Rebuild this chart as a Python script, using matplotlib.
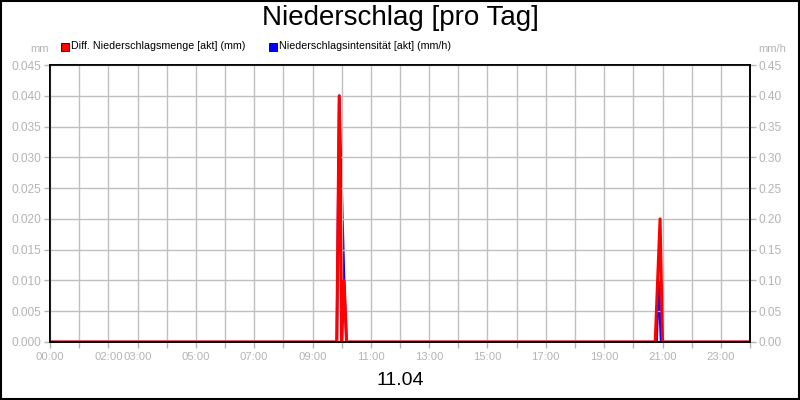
import matplotlib.pyplot as plt
from matplotlib.patches import Rectangle

plt.rcParams['font.family'] = ['Liberation Sans', 'DejaVu Sans']

# Diff. Niederschlagsmenge [akt] (mm)
menge_t = ["00:00", "09:50", "09:55", "10:00", "10:05", "10:10",
           "20:45", "20:55", "21:00", "24:00"]
menge_v = [0, 0, 0.040, 0, 0.010, 0, 0, 0.020, 0, 0]

# Niederschlagsintensitaet [akt] (mm/h)
intens_t = ["00:00", "09:50", "09:55", "10:05", "10:10",
            "20:48", "20:52", "20:57", "24:00"]
intens_v = [0, 0, 0.40, 0.10, 0, 0, 0.10, 0, 0]

tick_labels = ["00:00", "02:00", "03:00", "05:00", "07:00", "09:00", "11:00",
               "13:00", "15:00", "17:00", "19:00", "21:00", "23:00"]


def hours(ts):
    return [int(s[:2]) + int(s[3:]) / 60 for s in ts]


grey = '#b4b4b4'
fig = plt.figure(figsize=(8, 4), dpi=100)
ax = fig.add_axes([0.0625, 0.145, 0.875, 0.6925])
ax2 = ax.twinx()

ax2.plot(hours(intens_t), intens_v, color='#0000ff', lw=1.8)
ax.plot(hours(menge_t), menge_v, color='#ff0000', lw=2.2)
ax.set_zorder(ax2.get_zorder() + 1)
ax.patch.set_visible(False)

ax.set_xlim(0, 24)
ax.set_ylim(0, 0.045)
ax2.set_ylim(0, 0.45)
ax.set_yticks([i * 0.005 for i in range(10)])
ax.set_yticklabels([f"{i * 0.005:.3f}" for i in range(10)])
ax2.set_yticks([i * 0.05 for i in range(10)])
ax2.set_yticklabels([f"{i * 0.05:.2f}" for i in range(10)])
ax.set_xticks(range(25))
ax.set_xticklabels([f"{h:02d}:00" if f"{h:02d}:00" in tick_labels else "" for h in range(25)])
ax.grid(True, color='#c0c0c0', lw=1)
ax.set_axisbelow(True)

for a in (ax, ax2):
    a.tick_params(color=grey, labelcolor=grey, labelsize=8.6,
                  direction='out', length=4, width=1, pad=2)
    for s in a.spines.values():
        s.set_color('black')
        s.set_linewidth(1.2)
ax.tick_params(axis='x', pad=3, labelsize=8.1)

fig.text(0.5, 0.955, "Niederschlag [pro Tag]", ha='center', va='center', fontsize=20)
fig.text(0.05, 0.877, "mm", ha='center', va='center', fontsize=8, color=grey)
fig.text(0.965, 0.877, "mm/h", ha='center', va='center', fontsize=8, color=grey)
fig.text(0.5, 0.048, "11.04", ha='center', va='center', fontsize=14)

fig.patches.append(Rectangle((0.0765, 0.873), 0.01, 0.02, transform=fig.transFigure,
                             facecolor='#ff0000', edgecolor='black', lw=0.6))
fig.text(0.089, 0.884, "Diff. Niederschlagsmenge [akt] (mm)", va='center', fontsize=7.7)
fig.patches.append(Rectangle((0.3365, 0.873), 0.01, 0.02, transform=fig.transFigure,
                             facecolor='#0000ff', edgecolor='black', lw=0.6))
fig.text(0.349, 0.884, "Niederschlagsintensität [akt] (mm/h)", va='center', fontsize=7.7)

fig.patches.append(Rectangle((0.001, 0.002), 0.998, 0.996, transform=fig.transFigure,
                             fill=False, edgecolor='black', lw=1.5))

fig.savefig('out.png', dpi=100, facecolor='white')
